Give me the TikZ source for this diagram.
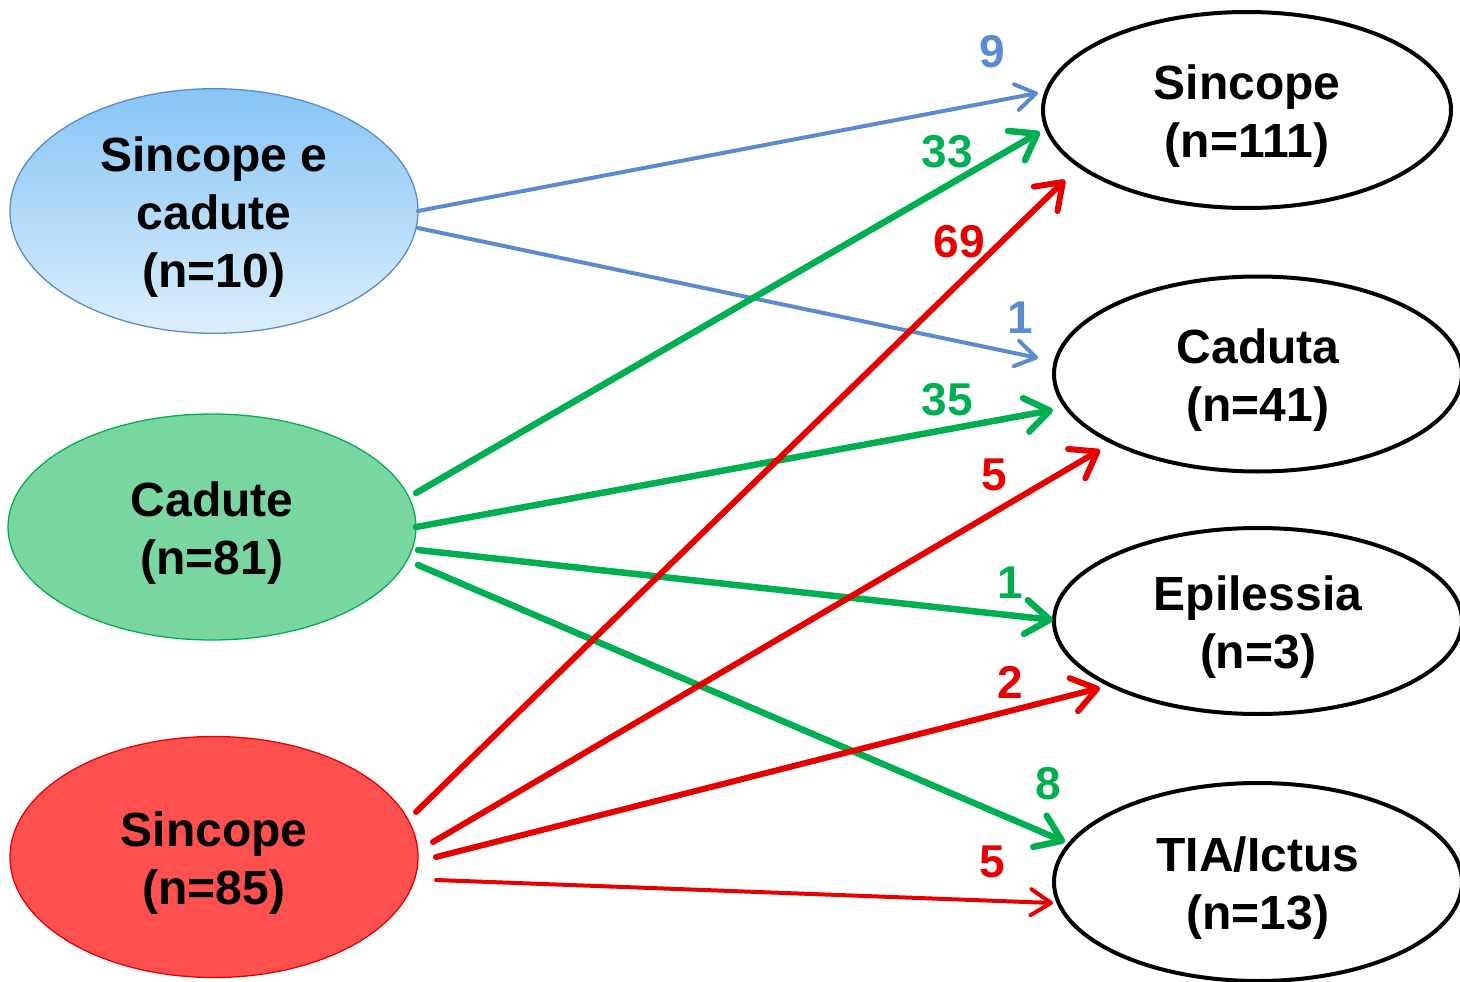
\documentclass[tikz,border=0pt]{standalone}
\usepackage{fontspec}
\setmainfont{Liberation Sans}
\usetikzlibrary{arrows.meta,shapes.geometric,calc}
\definecolor{cblue}{HTML}{5A8BD0}
\definecolor{cgreen}{HTML}{00B050}
\definecolor{cred}{HTML}{E60000}
\definecolor{bluetop}{HTML}{86C5F6}
\definecolor{bluebot}{HTML}{DCEEFB}
\definecolor{bluebd}{HTML}{5A8ACB}
\definecolor{greenfill}{HTML}{7AD6A0}
\definecolor{redfill}{HTML}{FF5050}
\newcommand{\tp}{\rule{0pt}{47pt}}
\begin{document}
\begin{tikzpicture}[x=1pt,y=-1pt,
  txt/.style={font=\bfseries\fontsize{48}{58}\selectfont, align=center},
  srcnode/.style={ellipse, txt, inner sep=0pt, minimum width=408pt, minimum height=238pt, line width=1.3pt},
  dstnode/.style={ellipse, txt, draw=black, line width=4pt, inner sep=0pt, minimum width=408pt, minimum height=194pt},
  lbl/.style={font=\bfseries\fontsize{46}{50}\selectfont, inner sep=0pt},
  bluearr/.style={draw=cblue, line width=4pt, line cap=round, -{Straight Barb[length=20pt,width=26pt,round]}},
  greenarr/.style={draw=cgreen, line width=6.5pt, line cap=round, -{Straight Barb[length=24pt,width=34pt,round]}},
  redarr/.style={draw=cred, line width=6pt, line cap=round, -{Straight Barb[length=24pt,width=34pt,round]}},
  redthin/.style={draw=cred, line width=4pt, line cap=round, -{Straight Barb[length=20pt,width=26pt,round]}}
]
\useasboundingbox (0,0) rectangle (1460,982);

% source nodes
\node[srcnode, draw=bluebd, top color=bluetop, bottom color=bluebot, minimum height=242pt] (L1) at (214,211) {\tp Sincope e\\cadute\\(n=10)};
\node[srcnode, draw=cgreen, fill=greenfill, minimum height=226pt] (L2) at (212,527) {\tp Cadute\\(n=81)};
\node[srcnode, draw=cred, fill=redfill, minimum height=241pt] (L3) at (214,857) {\tp Sincope\\(n=85)};

% destination nodes
\node[dstnode, minimum height=196pt] (R1) at (1247,110) {\tp Sincope\\(n=111)};
\node[dstnode, minimum height=195pt] (R2) at (1258,374) {\tp Caduta\\(n=41)};
\node[dstnode, minimum height=186pt] (R3) at (1258,621) {\tp Epilessia\\(n=3)};
\node[dstnode, minimum height=198pt] (R4) at (1258,882) {\tp TIA/Ictus\\(n=13)};

% blue arrows
\draw[bluearr] ($(L1.center)+(204,0)$) -- ($(R1.center)+(-209,-17)$);
\draw[bluearr] ($(L1.center)+(204,17)$) -- ($(R2.center)+(-220,-16)$);

% green arrows
\draw[greenarr] ($(L2.center)+(204,-34)$) -- ($(R1.center)+(-207,22)$);
\draw[greenarr] ($(L2.center)+(204,0)$) -- ($(R2.center)+(-205,36)$);
\draw[greenarr] ($(L2.center)+(206,23)$) -- ($(R3.center)+(-205,-1)$);
\draw[greenarr] ($(L2.center)+(206,38)$) -- ($(R4.center)+(-193,-40)$);

% red arrows
\draw[redarr] ($(L3.center)+(202,-45)$) -- ($(R1.center)+(-182,70)$);
\draw[redarr] ($(L3.center)+(219,-15)$) -- ($(R2.center)+(-158,76)$);
\draw[redarr] ($(L3.center)+(222,0)$) -- ($(R3.center)+(-158,67)$);
\draw[redthin] ($(L3.center)+(222,23)$) -- ($(R4.center)+(-205,21)$);

% labels
\node[lbl, text=cblue] (n9) at (992,52) {9};
\node[lbl, text=cgreen] (n33) at (947,152) {33};
\node[lbl, text=cred] (n69) at (959,242) {69};
\node[lbl, text=cblue] (n1b) at (1020,318) {1};
\node[lbl, text=cgreen] (n35) at (947,400) {35};
\node[lbl, text=cred] (n5a) at (994,475) {5};
\node[lbl, text=cgreen] (n1g) at (1010,583) {1};
\node[lbl, text=cred] (n2) at (1010,682) {2};
\node[lbl, text=cgreen] (n8) at (1048,784) {8};
\node[lbl, text=cred] (n5b) at (992,862) {5};
\end{tikzpicture}
\end{document}
